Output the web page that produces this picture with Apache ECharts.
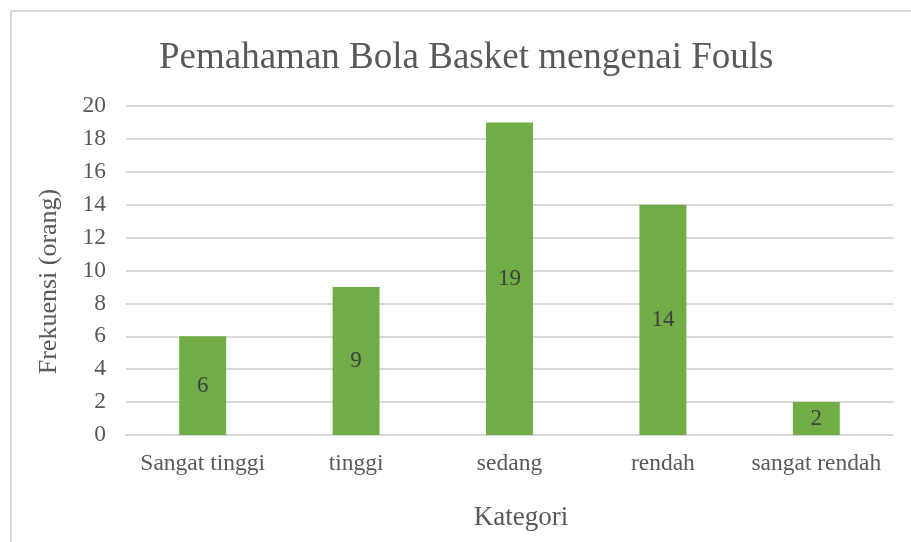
<!DOCTYPE html>
<html lang="id">
<head>
	<meta charset="UTF-8">
	<title>Pemahaman Bola Basket mengenai Fouls</title>
	<script src="https://cdn.jsdelivr.net/npm/echarts@6/dist/echarts.min.js"></script>
	<style>
		html,body{margin:0;padding:0;background:#fff;overflow:hidden;}
		#frame{position:absolute;left:10px;top:10px;width:920px;height:560px;border-left:2px solid #d9d9d9;border-top:2px solid #d9d9d9;}
		#chart{position:absolute;left:0;top:0;width:911px;height:542px;}
	</style>
</head>
<body>
	<div id="frame"></div>
	<div id="chart"></div>
<script>
	var categories=['Sangat tinggi','tinggi','sedang','rendah','sangat rendah'];
	var frekuensi=[6,9,19,14,2];

	var serif='"Liberation Serif","Times New Roman",serif';

	var option={
		animation:false,
		title:{
			text:'Pemahaman Bola Basket mengenai Fouls',
			left:154,
			top:35,
			textStyle:{fontFamily:serif,fontSize:37,fontWeight:'normal',color:'#595959'}
		},
		grid:{left:126,right:18,top:106,bottom:107,containLabel:false},
		xAxis:{
			type:'category',
			data:categories,
			name:'Kategori',
			nameLocation:'middle',
			nameGap:69,
			nameTextStyle:{fontFamily:serif,fontSize:27,color:'#595959',padding:[0,0,0,23]},
			axisLine:{lineStyle:{color:'#d9d9d9',width:2}},
			axisTick:{show:false},
			axisLabel:{fontFamily:serif,fontSize:23.5,color:'#595959',margin:17,interval:0}
		},
		yAxis:{
			type:'value',
			min:0,max:20,interval:2,
			name:'Frekuensi (orang)',
			nameLocation:'middle',
			nameGap:64,
			nameTextStyle:{fontFamily:serif,fontSize:26,color:'#595959',padding:[0,22,0,0]},
			axisLine:{show:false},
			axisTick:{show:false},
			axisLabel:{fontFamily:serif,fontSize:23.5,color:'#595959',margin:20},
			splitLine:{lineStyle:{color:'#d9d9d9',width:2}}
		},
		series:[{
			type:'bar',
			data:frekuensi,
			barWidth:'30.6%',
			itemStyle:{color:'#70ad47'},
			label:{show:true,position:'inside',fontFamily:serif,fontSize:23,color:'#404040'}
		}]
	};

	var myChart=echarts.init(document.getElementById('chart'));
	myChart.setOption(option);
</script>
</body>
</html>
